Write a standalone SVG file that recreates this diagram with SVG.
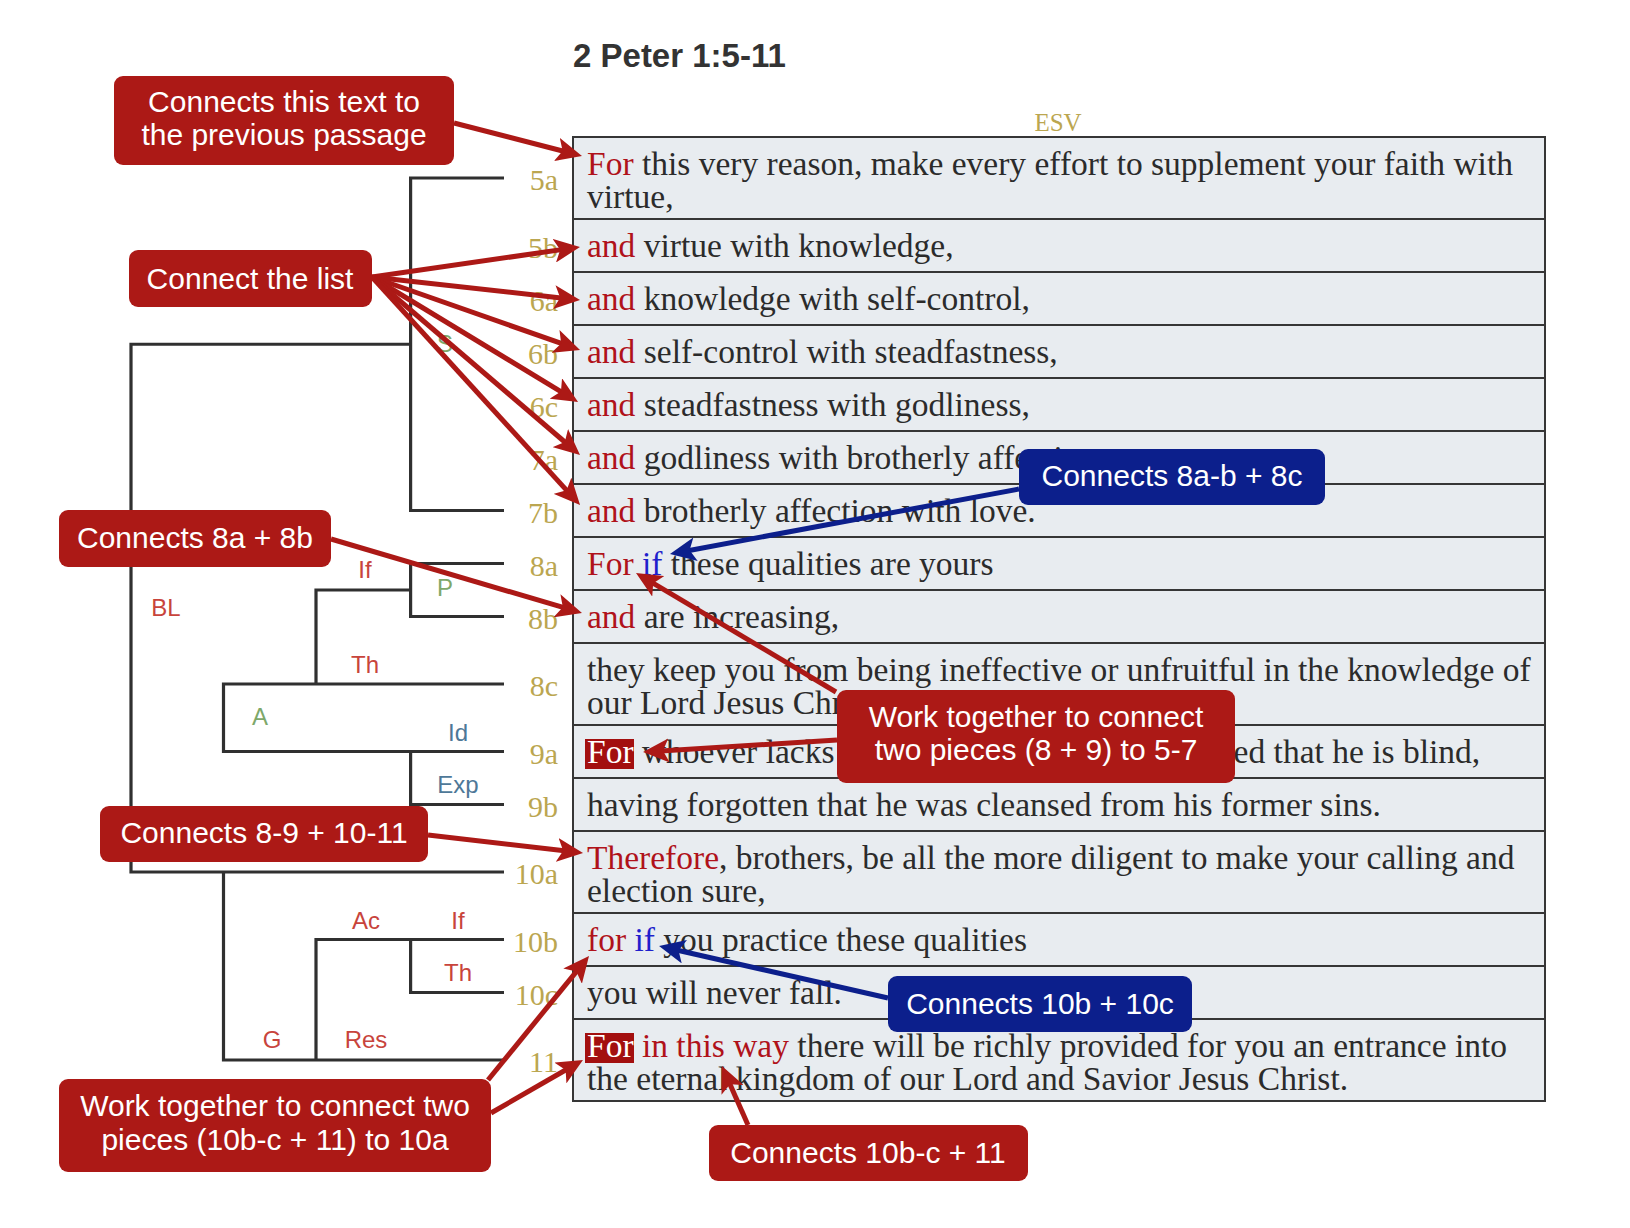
<svg xmlns="http://www.w3.org/2000/svg" width="1630" height="1228" viewBox="0 0 1630 1228">
<style>
.bg{fill:#ffffff}
.row{fill:#e8ecf0;stroke:#363636;stroke-width:2}
.t{font-family:"Liberation Serif","Times New Roman",serif;font-size:33.5px;fill:#2b2b2b}
.kw{fill:#b0121a}
.ifb{fill:#1f1fcc}
.wh{fill:#ffffff}
.hl{fill:#a30f0f}
.vl{font-family:"Liberation Serif","Times New Roman",serif;font-size:30px;fill:#bba650;text-anchor:end}
.br{fill:none;stroke:#303030;stroke-width:3.2}
.lb{font-family:"Liberation Sans",Arial,sans-serif;font-size:24px;text-anchor:middle}
.r{fill:#c8443c}
.g{fill:#7ea86a}
.b{fill:#4e7898}
.cr{fill:#ac1916}
.cb{fill:#0c1f8c}
.ct{font-family:"Liberation Sans",Arial,sans-serif;font-size:30px;fill:#ffffff;text-anchor:middle}
.ar{fill:none;stroke:#ac1916;stroke-width:5}
.ab{fill:none;stroke:#0c1f8c;stroke-width:5}
</style>
<defs>
<marker id="mr" markerUnits="userSpaceOnUse" viewBox="0 0 26 24" markerWidth="26" markerHeight="24" refX="16" refY="12" orient="auto"><path d="M0,0 L26,12 L0,24 L6,12 Z" fill="#ac1916"/></marker>
<marker id="mb" markerUnits="userSpaceOnUse" viewBox="0 0 26 24" markerWidth="26" markerHeight="24" refX="16" refY="12" orient="auto"><path d="M0,0 L26,12 L0,24 L6,12 Z" fill="#0c1f8c"/></marker>
</defs>
<rect class="bg" x="0" y="0" width="1630" height="1228"/>
<g id="title"><text x="573" y="67" font-family="'Liberation Sans',Arial,sans-serif" font-size="33" font-weight="bold" fill="#333">2 Peter 1:5-11</text></g>
<g id="esv"><text x="1058" y="131" font-family="'Liberation Serif','Times New Roman',serif" font-size="25" fill="#bba650" text-anchor="middle">ESV</text></g>

<g id="v5a"><rect class="row" x="573" y="137" width="972" height="82"/><text class="vl" x="558" y="190">5a</text><text class="t" x="587" y="175"><tspan class="kw">For</tspan> this very reason, make every effort to supplement your faith with</text><text class="t" x="587" y="208">virtue,</text></g>
<g id="v5b"><rect class="row" x="573" y="219" width="972" height="53"/><text class="vl" x="558" y="258">5b</text><text class="t" x="587" y="257"><tspan class="kw">and</tspan> virtue with knowledge,</text></g>
<g id="v6a"><rect class="row" x="573" y="272" width="972" height="53"/><text class="vl" x="558" y="311">6a</text><text class="t" x="587" y="310"><tspan class="kw">and</tspan> knowledge with self-control,</text></g>
<g id="v6b"><rect class="row" x="573" y="325" width="972" height="53"/><text class="vl" x="558" y="364">6b</text><text class="t" x="587" y="363"><tspan class="kw">and</tspan> self-control with steadfastness,</text></g>
<g id="v6c"><rect class="row" x="573" y="378" width="972" height="53"/><text class="vl" x="558" y="417">6c</text><text class="t" x="587" y="416"><tspan class="kw">and</tspan> steadfastness with godliness,</text></g>
<g id="v7a"><rect class="row" x="573" y="431" width="972" height="53"/><text class="vl" x="558" y="470">7a</text><text class="t" x="587" y="469"><tspan class="kw">and</tspan> godliness with brotherly affection,</text></g>
<g id="v7b"><rect class="row" x="573" y="484" width="972" height="53"/><text class="vl" x="558" y="523">7b</text><text class="t" x="587" y="522"><tspan class="kw">and</tspan> brotherly affection with love.</text></g>
<g id="v8a"><rect class="row" x="573" y="537" width="972" height="53"/><text class="vl" x="558" y="576">8a</text><text class="t" x="587" y="575"><tspan class="kw">For</tspan> <tspan class="ifb">if</tspan> these qualities are yours</text></g>
<g id="v8b"><rect class="row" x="573" y="590" width="972" height="53"/><text class="vl" x="558" y="629">8b</text><text class="t" x="587" y="628"><tspan class="kw">and</tspan> are increasing,</text></g>
<g id="v8c"><rect class="row" x="573" y="643" width="972" height="82"/><text class="vl" x="558" y="696">8c</text><text class="t" x="587" y="681">they keep you from being ineffective or unfruitful in the knowledge of</text><text class="t" x="587" y="714">our Lord Jesus Christ.</text></g>
<g id="v9a"><rect class="row" x="573" y="725" width="972" height="53"/><text class="vl" x="558" y="764">9a</text><rect class="hl" x="585" y="739" width="49" height="30"/><text class="t" x="587" y="763"><tspan class="wh">For</tspan> whoever lacks these qualities is so nearsighted that he is blind,</text></g>
<g id="v9b"><rect class="row" x="573" y="778" width="972" height="53"/><text class="vl" x="558" y="817">9b</text><text class="t" x="587" y="816">having forgotten that he was cleansed from his former sins.</text></g>
<g id="v10a"><rect class="row" x="573" y="831" width="972" height="82"/><text class="vl" x="558" y="884">10a</text><text class="t" x="587" y="869"><tspan class="kw">Therefore</tspan>, brothers, be all the more diligent to make your calling and</text><text class="t" x="587" y="902">election sure,</text></g>
<g id="v10b"><rect class="row" x="573" y="913" width="972" height="53"/><text class="vl" x="558" y="952">10b</text><text class="t" x="587" y="951"><tspan class="kw">for</tspan> <tspan class="ifb">if</tspan> you practice these qualities</text></g>
<g id="v10c"><rect class="row" x="573" y="966" width="972" height="53"/><text class="vl" x="558" y="1005">10c</text><text class="t" x="587" y="1004">you will never fall.</text></g>
<g id="v11"><rect class="row" x="573" y="1019" width="972" height="82"/><text class="vl" x="558" y="1072">11</text><rect class="hl" x="585" y="1033" width="49" height="30"/><text class="t" x="587" y="1057"><tspan class="wh">For</tspan> <tspan class="kw">in this way</tspan> there will be richly provided for you an entrance into</text><text class="t" x="587" y="1090">the eternal kingdom of our Lord and Savior Jesus Christ.</text></g>

<g id="brackets">
<path class="br" d="M504,178 H410.6 V510.5 H504"/>
<path class="br" d="M410.6,344.25 H131 V872 H504"/>
<path class="br" d="M504,563.5 H410.6 V616.5 H504"/>
<path class="br" d="M410.6,590 H316 V684"/>
<path class="br" d="M504,684 H223.5 V751.5 H504"/>
<path class="br" d="M410.6,751.5 V804.5 H504"/>
<path class="br" d="M223.5,872 V1060 H504"/>
<path class="br" d="M504,939.5 H316 V1060"/>
<path class="br" d="M410.6,939.5 V992.5 H504"/>
<text class="lb g" x="445" y="352">S</text>
<text class="lb r" x="166" y="616">BL</text>
<text class="lb r" x="365" y="578">If</text>
<text class="lb g" x="445" y="596">P</text>
<text class="lb r" x="365" y="673">Th</text>
<text class="lb g" x="260" y="725">A</text>
<text class="lb b" x="458" y="741">Id</text>
<text class="lb b" x="458" y="793">Exp</text>
<text class="lb r" x="366" y="929">Ac</text>
<text class="lb r" x="458" y="929">If</text>
<text class="lb r" x="458" y="981">Th</text>
<text class="lb r" x="272" y="1048">G</text>
<text class="lb r" x="366" y="1048">Res</text>
</g>

<g id="connectors">
<line class="ar" x1="454" y1="123" x2="572.3" y2="153.5" marker-end="url(#mr)"/>
<line class="ar" x1="372" y1="277" x2="570.1" y2="248.4" marker-end="url(#mr)"/>
<line class="ar" x1="372" y1="277" x2="570.1" y2="298.9" marker-end="url(#mr)"/>
<line class="ar" x1="372" y1="277" x2="570.6" y2="346.7" marker-end="url(#mr)"/>
<line class="ar" x1="372" y1="277" x2="569.5" y2="396.8" marker-end="url(#mr)"/>
<line class="ar" x1="372" y1="277" x2="572.4" y2="448.5" marker-end="url(#mr)"/>
<line class="ar" x1="372" y1="277" x2="573.3" y2="497.6" marker-end="url(#mr)"/>
<line class="ab" x1="1019" y1="489" x2="679.8" y2="552.2" marker-end="url(#mb)"/>
<line class="ar" x1="331" y1="539" x2="572.4" y2="610.2" marker-end="url(#mr)"/>
<line class="ar" x1="836" y1="692" x2="644.6" y2="578.1" marker-end="url(#mr)"/>
<line class="ar" x1="837" y1="740" x2="653" y2="751.4" marker-end="url(#mr)"/>
<line class="ar" x1="428" y1="835" x2="573.1" y2="851.8" marker-end="url(#mr)"/>
<line class="ab" x1="888" y1="998" x2="668.8" y2="948.2" marker-end="url(#mb)"/>
<line class="ar" x1="488" y1="1080" x2="582.7" y2="963.8" marker-end="url(#mr)"/>
<line class="ar" x1="491" y1="1113" x2="574.3" y2="1065" marker-end="url(#mr)"/>
<line class="ar" x1="748" y1="1125" x2="726" y2="1075.2" marker-end="url(#mr)"/>
</g>

<g id="c-prev"><rect class="cr" x="114" y="76" width="340" height="89" rx="9"/><text class="ct" x="284" y="112">Connects this text to</text><text class="ct" x="284" y="145">the previous passage</text></g>
<g id="c-list"><rect class="cr" x="129" y="250" width="243" height="57" rx="9"/><text class="ct" x="250" y="289">Connect the list</text></g>
<g id="c-8ab8c"><rect class="cb" x="1019" y="449" width="306" height="56" rx="9"/><text class="ct" x="1172" y="486">Connects 8a-b + 8c</text></g>
<g id="c-8a8b"><rect class="cr" x="59" y="510" width="272" height="57" rx="9"/><text class="ct" x="195" y="548">Connects 8a + 8b</text></g>
<g id="c-89"><rect class="cr" x="837" y="690" width="398" height="93" rx="9"/><text class="ct" x="1036" y="727">Work together to connect</text><text class="ct" x="1036" y="760">two pieces (8 + 9) to 5-7</text></g>
<g id="c-8911"><rect class="cr" x="100" y="806" width="328" height="56" rx="9"/><text class="ct" x="264" y="843">Connects 8-9 + 10-11</text></g>
<g id="c-10b10c"><rect class="cb" x="888" y="976" width="304" height="56" rx="9"/><text class="ct" x="1040" y="1014">Connects 10b + 10c</text></g>
<g id="c-1011"><rect class="cr" x="59" y="1079" width="432" height="93" rx="9"/><text class="ct" x="275" y="1116">Work together to connect two</text><text class="ct" x="275" y="1150">pieces (10b-c + 11) to 10a</text></g>
<g id="c-10bc11"><rect class="cr" x="709" y="1125" width="319" height="56" rx="9"/><text class="ct" x="868" y="1163">Connects 10b-c + 11</text></g>
</svg>
